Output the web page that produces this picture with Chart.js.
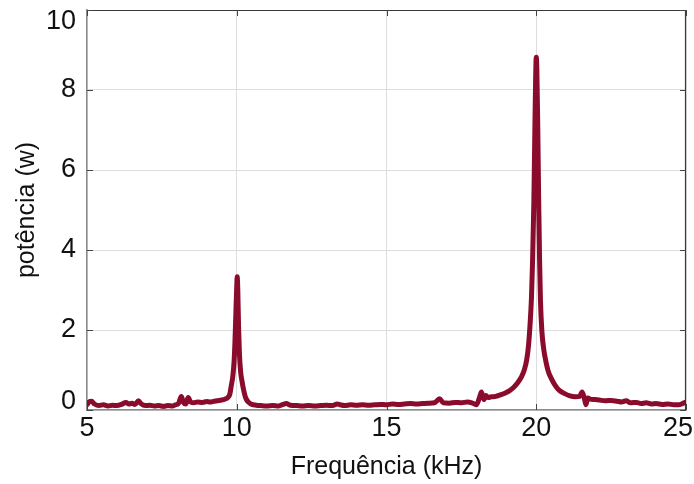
<!DOCTYPE html>
<html>
<head>
<meta charset="utf-8">
<script src="https://cdn.jsdelivr.net/npm/chart.js@4"></script>
<style>
  html, body { margin: 0; padding: 0; background: #fff; }
  canvas { display: block; }
</style>
</head>
<body>
<canvas id="spectrum" width="694" height="484"></canvas>
<script>
// ---------- Data ----------
const freqKHz = [
  5.00, 5.08, 5.15, 5.25, 5.40, 5.55, 5.70, 5.85, 6.00, 6.15, 6.30, 6.40, 6.50, 6.60, 6.72, 6.80,
  6.95, 7.10, 7.25, 7.40, 7.55, 7.70, 7.85, 7.95, 8.05, 8.15, 8.22, 8.30, 8.38, 8.45, 8.55, 8.70,
  8.85, 9.00, 9.10, 9.20, 9.35, 9.50, 9.60, 9.70, 9.77, 9.82, 9.87, 9.91, 9.94, 9.97, 10.00, 10.015,
  10.035, 10.06, 10.09, 10.13, 10.18, 10.23, 10.30, 10.40, 10.50, 10.65, 10.80, 11.00, 11.20, 11.40,
  11.55, 11.65, 11.80, 12.00, 12.20, 12.40, 12.60, 12.80, 13.00, 13.20, 13.35, 13.45, 13.60, 13.80,
  14.00, 14.20, 14.40, 14.60, 14.80, 15.00, 15.20, 15.40, 15.60, 15.80, 16.00, 16.20, 16.40, 16.60,
  16.77, 16.90, 17.10, 17.30, 17.50, 17.70, 17.85, 18.00, 18.10, 18.17, 18.25, 18.32, 18.40, 18.50,
  18.65, 18.80, 18.95, 19.10, 19.25, 19.38, 19.50, 19.60, 19.68, 19.74, 19.79, 19.84, 19.88, 19.92,
  19.95, 19.98, 20.00, 20.02, 20.05, 20.08, 20.11, 20.14, 20.19, 20.25, 20.32, 20.40, 20.50, 20.62,
  20.77, 20.95, 21.10, 21.30, 21.45, 21.53, 21.60, 21.66, 21.72, 21.80, 21.95, 22.10, 22.30, 22.50,
  22.70, 22.85, 23.00, 23.15, 23.35, 23.50, 23.67, 23.85, 24.00, 24.20, 24.40, 24.60, 24.75, 24.88,
  25.00
];

const powerW = [
  0.13, 0.21, 0.22, 0.15, 0.11, 0.13, 0.10, 0.12, 0.11, 0.14, 0.19, 0.15, 0.17, 0.14, 0.23, 0.16,
  0.11, 0.12, 0.10, 0.11, 0.09, 0.11, 0.10, 0.13, 0.16, 0.34, 0.19, 0.15, 0.31, 0.21, 0.18, 0.20,
  0.19, 0.21, 0.20, 0.21, 0.23, 0.25, 0.27, 0.31, 0.40, 0.62, 0.85, 1.20, 1.70, 2.40, 3.10, 3.33,
  3.00, 2.10, 1.40, 0.95, 0.70, 0.50, 0.30, 0.19, 0.14, 0.12, 0.11, 0.10, 0.11, 0.10,
  0.14, 0.16, 0.12, 0.11, 0.10, 0.11, 0.10, 0.11, 0.12, 0.11, 0.15, 0.13, 0.11, 0.13,
  0.12, 0.13, 0.12, 0.13, 0.14, 0.13, 0.15, 0.14, 0.15, 0.16, 0.15, 0.16, 0.17, 0.18,
  0.28, 0.18, 0.17, 0.19, 0.18, 0.20, 0.18, 0.13, 0.30, 0.45, 0.26, 0.36, 0.31, 0.33,
  0.34, 0.38, 0.42, 0.48, 0.57, 0.68, 0.82, 1.00, 1.25, 1.60, 2.10, 2.80, 3.80, 5.20,
  6.80, 8.30, 8.82, 8.50, 7.10, 5.30, 3.80, 2.75, 1.95, 1.52, 1.22, 0.97, 0.79, 0.63,
  0.49, 0.41, 0.36, 0.33, 0.34, 0.45, 0.31, 0.13, 0.30, 0.27, 0.26, 0.25, 0.23, 0.24,
  0.22, 0.20, 0.23, 0.18, 0.19, 0.16, 0.18, 0.15, 0.16, 0.14, 0.15, 0.13, 0.13, 0.16,
  0.20
];

const xTicks = [5, 10, 15, 20, 25];
const yTicks = [0, 2, 4, 6, 8, 10];

const LINE_COLOR = '#8a0b2b';
const TICK_FONT  = '27px "Liberation Sans", Arial, sans-serif';

// ---------- Frame, inward ticks and clamped tick labels ----------
const framePlugin = {
  id: 'frame',
  beforeDatasetsDraw(chart) {
    const { ctx, chartArea: a, scales } = chart;
    ctx.save();
    // top and right box lines
    ctx.strokeStyle = '#3a3a3a';
    ctx.lineWidth = 1.2;
    ctx.beginPath();
    ctx.moveTo(a.left, a.top + 0.5);
    ctx.lineTo(a.right - 0.5, a.top + 0.5);
    ctx.lineTo(a.right - 0.5, a.bottom);
    ctx.stroke();
    // inward tick marks
    ctx.strokeStyle = '#444';
    ctx.lineWidth = 1;
    ctx.beginPath();
    xTicks.forEach(v => {
      const x = Math.round(scales.x.getPixelForValue(v)) + 0.5;
      ctx.moveTo(x, a.bottom); ctx.lineTo(x, a.bottom - 6);
      ctx.moveTo(x, a.top);    ctx.lineTo(x, a.top + 6);
    });
    yTicks.forEach(v => {
      const y = Math.round(scales.y.getPixelForValue(v)) + 0.5;
      ctx.moveTo(a.left, y);  ctx.lineTo(a.left + 6, y);
      ctx.moveTo(a.right, y); ctx.lineTo(a.right - 6, y);
    });
    ctx.stroke();
    ctx.restore();
  },
  afterDraw(chart) {
    const { ctx, chartArea: a, scales, width } = chart;
    ctx.save();
    ctx.font = TICK_FONT;
    ctx.fillStyle = '#111';
    // y labels, kept inside the box height
    ctx.textAlign = 'right';
    ctx.textBaseline = 'middle';
    yTicks.forEach(v => {
      let y = scales.y.getPixelForValue(v);
      y = Math.min(Math.max(y, a.top + 12), a.bottom - 8);
      ctx.fillText(String(v), a.left - 11, y);
    });
    // x labels, kept inside the canvas
    ctx.textBaseline = 'top';
    ctx.textAlign = 'center';
    xTicks.forEach(v => {
      const label = String(v);
      const half = ctx.measureText(label).width / 2;
      let x = scales.x.getPixelForValue(v);
      x = Math.min(Math.max(x, half + 2), width - half - 1);
      ctx.fillText(label, x, a.bottom + 5);
    });
    ctx.restore();
  }
};

// ---------- Chart ----------
const ctx = document.getElementById('spectrum').getContext('2d');

new Chart(ctx, {
  type: 'line',
  data: {
    datasets: [{
      data: freqKHz.map((f, i) => ({ x: f, y: powerW[i] })),
      borderColor: LINE_COLOR,
      borderWidth: 5,
      borderCapStyle: 'round',
      borderJoinStyle: 'round',
      cubicInterpolationMode: 'monotone',
      pointRadius: 0,
      fill: false,
    }],
  },
  options: {
    responsive: false,
    animation: false,
    devicePixelRatio: 1,
    layout: { padding: { top: 10, right: 8, left: 0, bottom: 0 } },
    plugins: {
      legend:  { display: false },
      tooltip: { enabled: false },
    },
    scales: {
      x: {
        type: 'linear',
        min: 5,
        max: 25,
        afterBuildTicks: s => { s.ticks = xTicks.map(v => ({ value: v })); },
        afterFit: s => { s.height = 74; },
        ticks: { display: false },
        grid:  { color: '#dedede', lineWidth: 1, drawTicks: false },
        border: { color: '#8a8a8a', width: 1.5 },
        title: {
          display: true,
          text: 'Frequência (kHz)',
          color: '#111',
          font: { family: '"Liberation Sans", Arial, sans-serif', size: 25 },
          padding: { top: 0, bottom: 2 },
        },
      },
      y: {
        min: 0,
        max: 10,
        afterBuildTicks: s => { s.ticks = yTicks.map(v => ({ value: v })); },
        afterFit: s => { s.width = 87; },
        ticks: { display: false },
        grid:  { color: '#dedede', lineWidth: 1, drawTicks: false },
        border: { color: '#8a8a8a', width: 1.5 },
        title: {
          display: true,
          text: 'potência (w)',
          color: '#111',
          font: { family: '"Liberation Sans", Arial, sans-serif', size: 25 },
          padding: { top: 12, bottom: 0 },
        },
      },
    },
  },
  plugins: [framePlugin],
});
</script>
</body>
</html>
